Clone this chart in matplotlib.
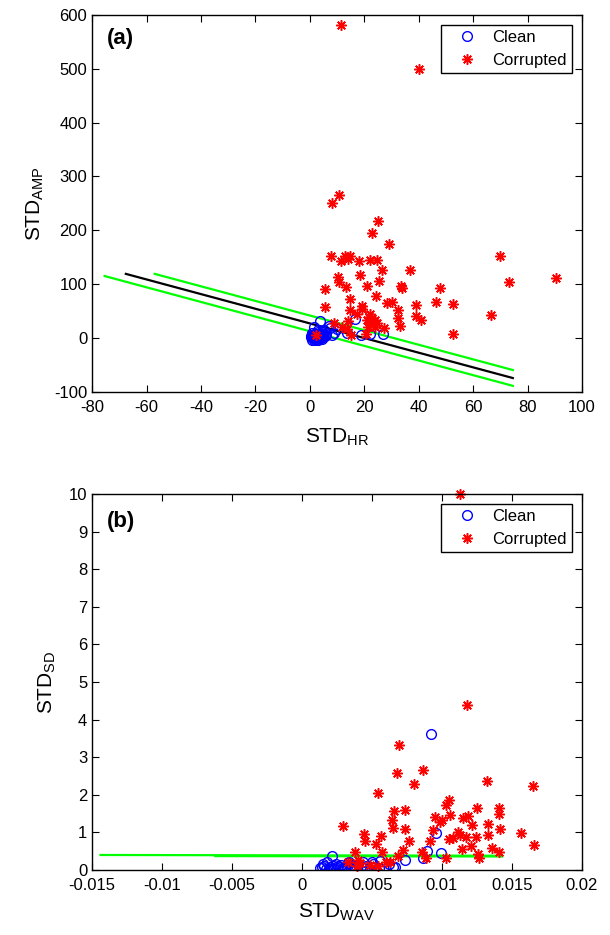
import numpy as np
from matplotlib import pyplot as plt

plt.rcParams['font.family'] = ['Liberation Sans', 'DejaVu Sans']
plt.rcParams['mathtext.fontset'] = 'custom'
plt.rcParams['mathtext.rm'] = 'Liberation Sans'
plt.rcParams['mathtext.it'] = 'Liberation Sans'
plt.rcParams['axes.unicode_minus'] = False

# panel (a): STD_HR vs STD_AMP
a_clean_x = [0.5, 1.0, 1.5, 2.0, 2.5, 3.0, 3.5, 4.0, 4.5, 5.0, 1.2, 2.2, 3.2, 4.2, 0.8,
             1.8, 2.8, 3.8, 5.5, 0.9, 3.7, 1.5, 7.0, 10.1, 16.5, 13.7, 18.7, 22.3, 26.9,
             8.2, 5.2, 3.1, 0.9, 6.0, 2.5, 0.7, 1.4, 2.1, 2.9, 3.6, 4.4, 1.1, 1.9,
             2.6, 3.3, 4.1, 4.8, 0.4, 1.6, 2.4, 3.0, 4.6, 5.8, 7.5, 9.0]
a_clean_y = [1, 2, 0, 3, 1, 4, 2, 0, 3, 1, -1, 5, 6, 5, 4,
             -2, 2, 7, 3, 6, 31, 20, 23, 16, 35, 10, 5, 8, 8,
             5, 14, 14, 9, 10, -1, -3, -4, -2, -3, -1, -2, 3, 1,
             -4, 0, 2, 6, 3, 7, 8, 11, 12, 6, 18, 9]
a_corr_x = [11.6, 40.1, 10.6, 8.0, 25.0, 22.8, 29.0, 7.8, 12.9, 14.6, 11.4, 13.9, 17.9,
            22.1, 24.6, 26.6, 37.0, 69.8, 73.2, 90.3, 10.3, 18.4, 10.9, 25.4, 13.4,
            21.1, 33.6, 33.7, 47.7, 5.4, 24.2, 14.7, 5.5, 19.3, 19.0, 28.3, 30.1, 32.3,
            38.9, 46.3, 52.8, 66.5, 38.9, 41.0, 32.3, 33.0, 27.3, 52.8, 17.4, 14.7,
            22.3, 21.7, 22.9, 21.1, 23.9, 22.3, 24.8, 21.3, 24.1, 14.1, 13.7, 15.0,
            11.9, 8.9, 2.1, 20.5]
a_corr_y = [581, 500, 266, 250, 218, 195, 175, 152, 153, 152, 143, 147, 143,
            144, 145, 127, 127, 152, 104, 111, 114, 116, 103, 106, 95,
            96, 96, 92, 93, 90, 78, 72, 57, 59, 54, 65, 66, 51,
            61, 67, 63, 43, 40, 34, 37, 23, 18, 8, 45, 51,
            45, 39, 37, 33, 33, 27, 27, 20, 20, 31, 17, 6,
            20, 27, 5, 8]
# decision line and margins
a_line_x = [-67.6, 74.6]
a_line_y = [119, -74.5]
a_up_x = [-57.0, 74.6]
a_up_y = [119, -59.6]
a_lo_x = [-75.4, 74.6]
a_lo_y = [115, -89]

# panel (b): STD_WAV vs STD_SD
b_clean_x = [0.00919, 0.00957, 0.0089, 0.00993, 0.00862, 0.00736, 0.00664, 0.00652,
             0.00557, 0.00498, 0.00438, 0.00336, 0.00217, 0.00521, 0.0042,
             0.0013, 0.0016, 0.0019, 0.0022, 0.0025, 0.0028, 0.0031, 0.0034, 0.0037,
             0.0040, 0.0015, 0.0021, 0.0027, 0.0033, 0.0018, 0.0024, 0.0030, 0.0046,
             0.0051, 0.0062, 0.0014, 0.0017, 0.0020, 0.0023, 0.0026, 0.0029, 0.0032,
             0.0035, 0.0038, 0.0044, 0.0049, 0.0055]
b_clean_y = [3.61, 0.99, 0.50, 0.44, 0.31, 0.26, 0.09, 0.07,
             0.25, 0.22, 0.21, 0.22, 0.36, 0.09, 0.10,
             0.05, 0.10, 0.04, 0.12, 0.06, 0.14, 0.03, 0.11, 0.07,
             0.13, 0.15, 0.02, 0.09, 0.18, 0.20, 0.16, 0.05, 0.12,
             0.15, 0.17, 0.08, 0.03, 0.07, 0.04, 0.10, 0.06, 0.09,
             0.04, 0.02, 0.06, 0.08, 0.05]
b_corr_x = [0.0113, 0.01176, 0.00693, 0.00862, 0.00676, 0.00803, 0.00545, 0.01324,
            0.01652, 0.0105, 0.0103, 0.01248, 0.01407, 0.01407, 0.00657, 0.00736,
            0.0095, 0.01057, 0.0100, 0.00986, 0.01152, 0.01188, 0.01212, 0.0133,
            0.01414, 0.0029, 0.00645, 0.00652, 0.00738, 0.01117, 0.01129, 0.00445,
            0.00567, 0.00938, 0.0117, 0.01081, 0.01052, 0.0124, 0.0133, 0.01562,
            0.0166, 0.00914, 0.00767, 0.0045, 0.00526, 0.01205, 0.0114, 0.0136,
            0.0126, 0.01267, 0.01407, 0.00724, 0.0086, 0.00379, 0.00569, 0.0103,
            0.00886, 0.00688, 0.00629, 0.00331, 0.00414, 0.0039, 0.00486, 0.00402,
            0.00600, 0.0054]
b_corr_y = [10.0, 4.40, 3.32, 2.66, 2.58, 2.29, 2.05, 2.37,
            2.23, 1.87, 1.72, 1.66, 1.64, 1.49, 1.57, 1.59,
            1.41, 1.46, 1.33, 1.28, 1.39, 1.43, 1.21, 1.22,
            1.09, 1.18, 1.33, 1.13, 1.09, 1.02, 0.93, 0.97,
            0.91, 1.06, 0.89, 0.86, 0.82, 0.87, 0.93, 0.99,
            0.66, 0.77, 0.77, 0.77, 0.70, 0.64, 0.56, 0.58,
            0.42, 0.33, 0.47, 0.53, 0.49, 0.49, 0.47, 0.31,
            0.31, 0.36, 0.22, 0.22, 0.18, 0.10, 0.14, 0.27,
            0.20, 0.12]
b_up_x = [-0.0144, 0.0143]
b_up_y = [0.40, 0.38]
b_lo_x = [-0.0062, 0.0143]
b_lo_y = [0.37, 0.36]

star = (8, 2, 0)

fig = plt.figure(figsize=(6.1, 9.35), dpi=100)
ax1 = fig.add_axes([0.151, 0.581, 0.803, 0.403])
ax2 = fig.add_axes([0.151, 0.0695, 0.803, 0.4022])

# panel a
ax1.plot(a_lo_x, a_lo_y, color='#00ff00', lw=1.6)
ax1.plot(a_up_x, a_up_y, color='#00ff00', lw=1.6)
ax1.plot(a_line_x, a_line_y, color='black', lw=1.6)
ax1.plot(a_clean_x, a_clean_y, 'o', mfc='none', mec='blue', ms=7, mew=1.0, label='Clean')
ax1.plot(a_corr_x, a_corr_y, ls='none', marker=star, color='red', ms=7.5, mew=1.1,
         label='Corrupted')
ax1.set_xlim(-80, 100)
ax1.set_ylim(-100, 600)
ax1.set_xticks(np.arange(-80, 101, 20))
ax1.set_yticks(np.arange(-100, 601, 100))
ax1.set_xlabel(r'STD$_{\mathrm{HR}}$', fontsize=15, labelpad=8)
ax1.set_ylabel(r'STD$_{\mathrm{AMP}}$', fontsize=15, labelpad=6)
ax1.text(0.03, 0.965, '(a)', transform=ax1.transAxes, fontsize=16,
         fontweight='bold', va='top')

# panel b
ax2.plot(b_lo_x, b_lo_y, color='#00ff00', lw=1.6)
ax2.plot(b_up_x, b_up_y, color='#00ff00', lw=1.6)
ax2.plot(b_clean_x, b_clean_y, 'o', mfc='none', mec='blue', ms=7, mew=1.0, label='Clean')
ax2.plot(b_corr_x, b_corr_y, ls='none', marker=star, color='red', ms=7.5, mew=1.1,
         label='Corrupted', clip_on=False)
ax2.set_xlim(-0.015, 0.02)
ax2.set_ylim(0, 10)
ax2.set_xticks([-0.015, -0.01, -0.005, 0, 0.005, 0.01, 0.015, 0.02])
ax2.set_xticklabels(['-0.015', '-0.01', '-0.005', '0', '0.005', '0.01', '0.015', '0.02'])
ax2.set_yticks(np.arange(0, 11, 1))
ax2.set_xlabel(r'STD$_{\mathrm{WAV}}$', fontsize=15, labelpad=6)
ax2.set_ylabel(r'STD$_{\mathrm{SD}}$', fontsize=15, labelpad=8)
ax2.text(0.03, 0.955, '(b)', transform=ax2.transAxes, fontsize=16,
         fontweight='bold', va='top')

for ax in (ax1, ax2):
    ax.tick_params(direction='in', top=True, right=True, labelsize=12, length=5)
    ax.tick_params(axis='x', pad=6)
    for s in ax.spines.values():
        s.set_linewidth(1.0)
    leg = ax.legend(loc='upper right', fontsize=12, fancybox=False, framealpha=1,
                    edgecolor='black', borderpad=0.3, handletextpad=0.2,
                    handlelength=2.6, borderaxespad=0.6)
    leg.get_frame().set_linewidth(1.0)

fig.savefig('out.png', dpi=100)
